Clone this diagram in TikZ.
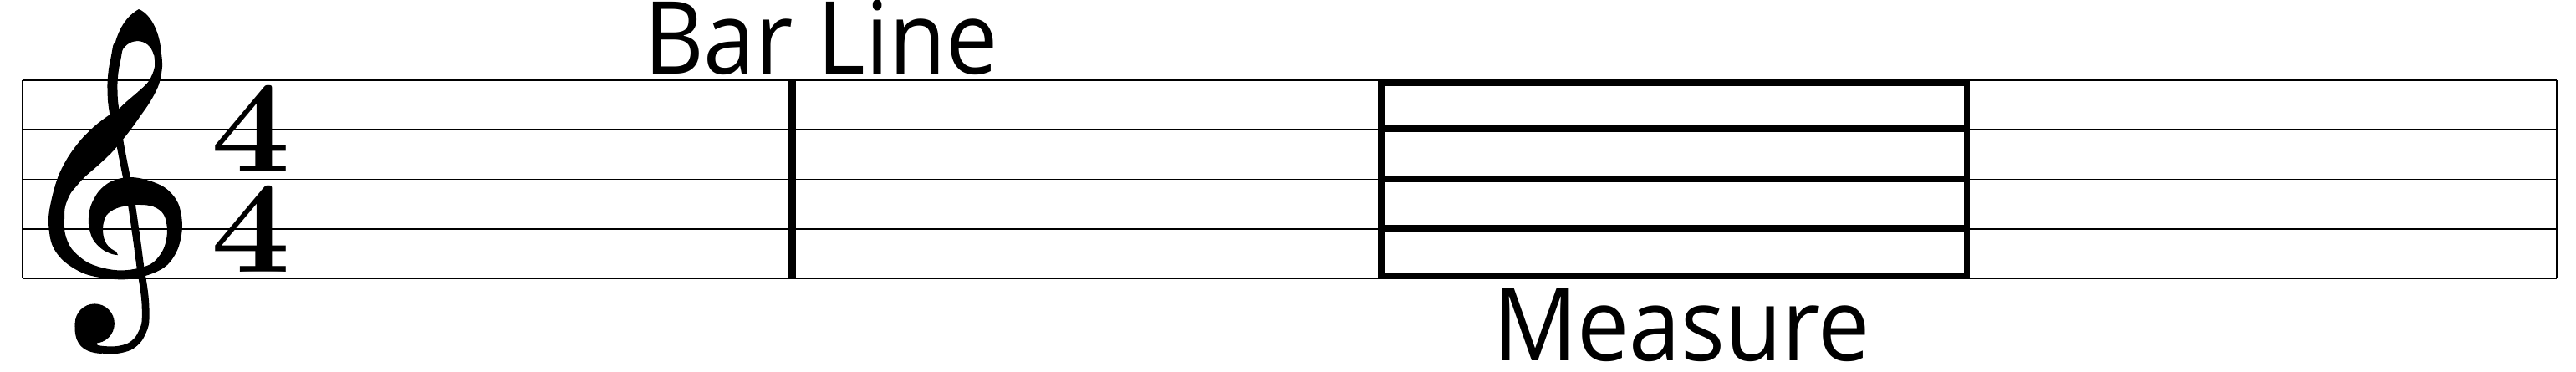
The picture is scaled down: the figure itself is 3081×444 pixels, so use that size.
\documentclass[tikz,border=0pt]{standalone}
\usepackage{fontspec}
\newfontfamily\labelfont{Open Sans}
\begin{document}
\begin{tikzpicture}[x=0.01cm, y=-0.01cm,
  staffline/.style={line width=0.5pt, line cap=butt},
  barline/.style={line width=2.85pt, line cap=butt},
  measurebox/.style={line width=2.1pt, line cap=butt},
  lbl/.style={inner sep=0pt, outer sep=0pt, xscale=0.92, font=\labelfont\fontsize{34.3pt}{40pt}\selectfont},
  tsig/.style={inner sep=0pt, outer sep=0pt, align=center, xscale=1.08, font=\fontsize{44.6pt}{34.14pt}\selectfont\bfseries},
  stemthick/.style={line width=3.4pt, line cap=round, line join=round},
  stemthin/.style={line width=2.5pt, line cap=round, line join=round}]
\useasboundingbox (0,0) rectangle (3081,444);
% staff
\foreach \i in {0,...,4} {
  \draw[staffline] (26.7,95.8+59.38*\i) -- (3057.7,95.8+59.38*\i);
}
\draw[staffline] (26.7,95.8) -- (26.7,333.3);
\draw[staffline] (3057.7,95.8) -- (3057.7,333.3);
% bar line
\draw[barline] (947,95.8) -- (947,333.3);
% measure box
\draw[measurebox] (1652,98.8) rectangle (2352.3,330.6);
\foreach \y in {154,214,273} {
  \draw[measurebox] (1652,\y) -- (2352.3,\y);
}
% treble clef
\fill (144,66) .. controls (149,45) and (178,42) .. (184,66) -- (193,66)
  .. controls (192,40) and (181,17) .. (166,11)
  .. controls (152,19) and (140,34) .. (135,64) -- cycle;
\fill plot[smooth, tension=0.55] coordinates {(184,64) (185,80) (178,97) (166,109) (152,121) (140,132) (130,138) (113,151) (97,167) (82,187) (70,210) (62,237) (58,263) (62,292) (76,312) (100,327) (127,333) (153,334) (180,328) (200,317) (213,297) (218,270) (213,243) (198,225) (175,215) (153,212) (133,217) (118,229) (108,248) (106,268) (111,286) (122,298) (134,304) (141,305)}
  -- plot[smooth, tension=0.55] coordinates {(139,301) (131,296) (125,287) (123,273) (127,258) (140,249) (162,245) (183,247) (196,257) (200,277) (195,299) (180,316) (153,323) (130,322) (105,314) (86,298) (78,280) (77,262) (78,247) (84,232) (92,222) (101,212) (117,198) (133,183) (146,168) (157,154) (167,140) (180,121) (190,101) (194,80) (193,64)} -- cycle;
\draw[stemthick] plot[smooth] coordinates {(141,56) (138.5,70) (136,83) (134.5,100) (135,120) (137,135)};
\draw[stemthin] plot[smooth] coordinates {(137,132) (140,150) (144,174) (149,200) (155,230) (159,255) (164,290) (168,320) (172,345) (174,365) (173.5,388) (166,405) (155,414.5) (140,418.5) (125,418.5) (114,417)};
\fill (113.3,387) circle[radius=23.6];
\fill (89.7,386) .. controls (88,408) and (96,422) .. (122,423) -- (117,414) -- (113,400) -- cycle;
% time signature
\node[tsig, anchor=center] (tsig) at (300,213.5) {4\\4};
% labels
\node[lbl, anchor=base west] (barlabel) at (770,88) {Bar Line};
\node[lbl, anchor=base west] (measurelabel) at (1786,431) {Measure};
\end{tikzpicture}
\end{document}
